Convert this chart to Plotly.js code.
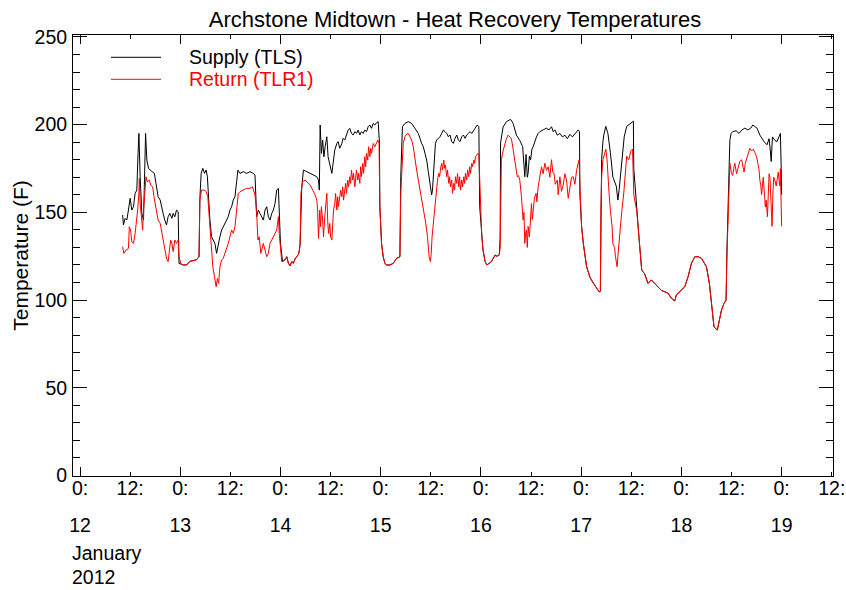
<!DOCTYPE html>
<html>
<head>
<meta charset="utf-8">
<script src="https://cdn.plot.ly/plotly-3.0.1.min.js"></script>
<style>html,body{margin:0;padding:0;background:#fff;}#chart{width:846px;height:590px;}</style>
</head>
<body>
<div id="chart"></div>
<script>
// Hours since 2012-01-12 00:00
const supplyHours = [10.2,10.4,10.8,11.2,11.6,12.0,12.4,12.8,13.2,13.6,13.9,14.1,14.4,14.8,15.2,15.4,15.7,16.0,16.4,16.8,17.4,17.8,18.2,18.7,19.2,19.6,19.9,20.3,20.7,21.1,21.5,22.0,22.3,22.7,23.1,23.5,23.7,24.2,24.7,25.5,26.3,27.1,27.9,28.5,
28.7,29.0,29.4,29.8,30.2,30.5,30.7,31.1,31.5,31.9,32.3,32.7,33.1,33.5,33.9,34.3,34.7,35.1,35.5,35.9,36.3,36.7,37.1,37.5,37.8,38.3,39.1,39.9,40.7,41.5,41.9,42.3,42.7,43.1,43.5,43.9,44.3,44.7,45.1,45.5,45.9,46.3,46.7,47.1,47.5,47.7,48.0,48.5,49.1,49.5,49.9,50.3,50.7,51.1,51.5,51.9,52.3,52.5,
52.7,53.1,53.5,54.3,55.1,55.9,56.7,57.1,57.3,57.5,57.8,58.1,58.4,58.7,59.1,59.4,59.9,60.3,60.6,61.0,61.5,61.8,62.2,62.7,63.0,63.4,63.8,64.2,64.6,65.0,65.4,65.8,66.2,66.6,67.0,67.4,67.8,68.2,68.6,69.0,69.4,69.8,70.2,70.6,71.0,71.4,71.7,71.8,72.2,72.6,73.0,73.4,74.2,75.0,75.8,76.6,
76.8,77.2,77.8,78.6,79.4,80.2,81.0,81.8,82.2,82.6,83.0,83.4,83.8,84.2,84.4,84.7,85.1,85.4,85.8,86.2,86.6,87.0,87.4,87.8,88.2,88.6,89.0,89.4,89.8,90.2,90.6,91.0,91.4,91.8,92.2,92.6,93.0,93.4,93.8,94.2,94.6,95.1,95.5,95.7,96.2,96.5,97.0,97.4,98.0,98.5,98.9,99.4,99.8,100.4,
100.6,100.7,101.3,102.1,103.1,103.7,104.5,105.3,106.0,106.3,106.5,106.8,106.9,107.1,107.3,107.6,107.9,108.2,108.5,108.9,109.3,109.7,110.1,110.9,111.7,112.3,112.9,113.3,113.7,114.3,114.9,115.5,116.1,116.7,117.3,117.9,118.5,119.0,119.3,119.6,119.7,120.1,120.5,121.3,122.1,122.9,123.7,124.3,124.6,
124.7,124.9,125.2,125.4,125.9,126.4,127.0,127.6,128.4,128.8,129.1,129.7,130.3,130.9,131.7,132.5,132.6,133.3,133.9,134.5,135.2,136.0,136.8,137.6,138.4,139.2,140.0,140.8,141.6,142.4,142.8,144.0,144.8,145.6,146.4,147.2,148.0,148.8,149.6,150.0,150.7,151.2,151.8,152.6,153.1,153.6,154.2,154.7,
154.9,155.1,155.4,155.6,155.9,156.3,157.1,157.8,158.5,159.2,159.9,160.6,161.1,161.6,162.1,162.8,163.3,163.8,164.5,165.0,165.3,165.5,165.8,166.4,166.9,167.4,167.7,167.9,168.0];
const supplyTemp = [148.5,142.8,146.6,145.6,151.3,158,151.3,153.2,160.8,162.7,183.6,195,170.3,149.4,145.6,170.3,195,179.8,175.1,174.1,173.2,172.2,166.5,158.9,157,151.3,149.4,145.6,142.8,147.5,149.4,146.6,149.4,147.5,151.3,150.4,120.9,120.5,120,120,122,122.5,123,124.7,
158,172.2,175.1,172.2,174.1,170.3,158.9,145.6,136.1,134.2,132.3,126.6,132.3,136.1,139.9,141.8,142.8,145.6,147.5,151.3,153.2,157,158.9,167.5,174.1,172.2,173.2,172.2,173.2,172.2,171.3,147.5,151.3,149.4,147.5,145.6,151.3,153.2,147.5,145.6,149.4,151.3,155.1,162.7,163.7,151.3,132.3,121.9,123,124.7,121,119.5,121.9,121,123.5,124.7,126,128,
132,164.6,174.1,173.2,172.2,171.3,170.3,168.4,162.7,199.8,183.6,191.2,181.7,187.4,193.1,181.7,176,172.2,177.9,185.5,189.3,190.3,186.5,189.3,192.2,191.2,194.1,196.9,197.9,195,194.1,196,195,196.9,194.1,196,195,196.9,196,198.8,199.8,197.9,200.7,199.8,201.1,201.7,189.3,153.2,132.3,124.7,120.9,120,120,120.9,123.8,124.7,
170.3,198.8,200.7,201.7,200.7,197.9,195,189.3,187.4,183.6,179.8,173.2,166.5,159.9,162.7,177.9,189.3,191.2,192.2,193.1,195,196.9,196,195,193.1,194.1,190.3,189.3,192.2,194.1,191.2,190.3,193.1,194.1,192.2,194.1,195,196,195,196.9,197.9,199.8,198.8,153.2,136.1,128.5,121.9,120,120.9,121.9,123.5,125.7,125,125.7,
135,189.5,198.6,201.7,203,200.7,194,191,187.4,178,170.3,183,180,170,172.4,182,180,186,187.4,191,193,195,196,197,198,197,198.8,196,197,194,195,193,194,192,194.5,193,195,196,197,196,160,142,132.5,119,113,109.6,106.8,104.7,105,
150,180,190,194,199,195,184,170,165,157,163,178,193,199,200.7,202,175,151,134,117,115,109.5,111.5,109.5,107.6,105.5,104.7,104,101,99.5,102.9,105.7,107.6,113.3,120.9,124.7,124.7,123.8,120.9,119,109.5,96.2,84.8,82.9,88.6,94.3,98.1,100,
128,150,170,191,195,196,196.5,195,197,198,197,198,199.8,199,198,194,192,190.3,188.5,192,185,179,193,191,190.3,193,195,175,160];

const returnHours = [10.2,10.5,11.0,11.6,11.8,12.1,12.4,12.8,13.2,13.6,13.8,14.1,14.2,14.4,14.7,15.0,15.2,15.5,15.8,16.1,16.6,16.9,17.4,17.7,18.0,18.4,18.7,19.2,19.6,19.9,20.3,20.7,21.1,21.4,21.7,22.0,22.3,22.7,23.1,23.5,23.7,24.2,24.7,25.5,26.3,27.1,27.9,28.5,
28.7,29.1,29.7,30.2,30.6,31.0,31.4,31.8,32.2,32.6,32.9,33.2,33.5,33.9,34.3,34.7,35.1,35.5,35.9,36.3,36.7,37.1,37.5,37.9,38.3,39.1,39.9,40.7,41.3,41.9,42.3,42.6,42.9,43.3,43.6,43.9,44.3,44.7,45.1,45.5,45.9,46.3,46.7,47.1,47.5,47.7,48.3,49.1,49.5,49.9,50.3,50.7,51.1,51.5,51.9,52.3,52.5,
52.7,52.9,53.3,53.9,54.3,54.7,55.1,55.5,55.9,56.3,56.7,56.9,57.1,57.4,57.6,57.8,58.1,58.3,58.6,58.8,59.1,59.3,59.5,59.8,60.0,60.3,60.5,60.7,61.0,61.2,61.5,61.7,61.9,62.2,62.4,62.7,62.9,63.1,63.4,63.6,63.8,64.1,64.3,64.6,64.8,65.0,65.3,65.5,65.8,66.0,66.2,66.5,66.7,67.0,67.2,67.4,67.7,67.9,68.2,68.4,68.6,68.9,69.1,69.4,69.6,69.8,70.2,70.6,71.0,71.3,71.6,71.8,72.2,72.6,73.0,73.4,74.2,75.0,75.8,76.6,
76.8,77.1,77.4,77.8,78.2,78.6,79.0,79.4,79.8,80.2,80.6,81.0,81.4,81.8,82.2,82.6,82.8,83.2,83.4,83.6,83.9,84.1,84.3,84.6,84.8,85.1,85.4,85.6,85.9,86.1,86.4,86.6,86.8,87.1,87.3,87.5,87.8,88.0,88.3,88.5,88.7,89.0,89.2,89.5,89.7,89.9,90.2,90.4,90.7,90.9,91.1,91.4,91.6,91.9,92.1,92.3,92.6,92.8,93.1,93.3,93.5,93.8,94.0,94.3,94.5,94.7,95.0,95.3,95.5,95.7,95.9,96.2,96.5,97.0,97.4,98.0,98.5,98.9,99.4,99.8,100.4,
100.6,100.7,100.9,101.3,101.7,102.1,102.5,102.9,103.3,103.7,104.1,104.4,104.7,105.0,105.3,105.7,106.1,106.3,106.5,106.7,106.9,107.1,107.3,107.6,107.9,108.1,108.3,108.5,108.8,109.2,109.4,109.7,110.1,110.5,110.9,111.3,111.7,112.1,112.5,112.9,113.2,113.5,113.8,114.3,114.5,114.9,115.3,115.7,116.1,116.5,116.9,117.3,117.7,118.1,118.5,118.9,119.2,119.5,119.7,120.1,120.5,121.3,122.1,122.9,123.7,124.3,124.6,
124.7,124.9,125.2,125.5,125.9,126.2,126.4,126.7,127.0,127.4,127.6,128.0,128.2,128.6,128.9,129.3,129.7,130.2,130.5,130.9,131.4,131.9,132.3,132.6,133.3,133.9,134.5,135.2,136.0,136.8,137.6,138.4,139.2,140.0,140.8,141.6,142.4,142.8,144.0,144.8,145.6,146.4,147.2,148.0,148.8,149.6,150.0,150.7,151.2,151.8,152.6,153.1,153.6,154.2,154.7,
154.9,155.1,155.4,155.6,156.0,156.3,156.6,156.8,157.2,157.6,158.0,158.4,158.7,159.0,159.3,159.8,160.2,160.4,160.8,161.2,161.6,162.0,162.3,162.6,162.8,163.0,163.2,163.4,163.6,163.9,164.1,164.3,164.5,164.6,164.8,165.0,165.2,165.4,165.7,165.9,166.1,166.4,166.7,167.0,167.2,167.4,167.6,167.7,167.9,168.0];
const returnTemp = [130.4,126.6,128.5,129.4,141.8,139.9,133.2,132.3,138,145.6,151.3,160.8,169.4,155.1,145.6,139.9,151.3,164.6,170.3,167.5,168.4,165.6,164.6,158.9,155.1,151.3,145.6,143.7,138,134.2,127.6,123.8,121.9,127.6,134.2,132.3,127.6,134.2,132.3,134.2,124.7,120.5,120,120,122,122.5,123,124.7,
157,162.7,162.7,161.8,158.9,145.6,132.3,119,113.3,107.6,112.3,109.5,119,122.8,123.8,126.6,128.5,132.3,136.1,139.9,138,141.8,151.3,160.8,161.8,162.7,163.7,163.7,164.6,159.9,149.4,134.2,136.1,126.6,130.4,132.3,128.5,124.7,126.6,132.3,134.2,136.1,138,139.9,147.5,138,121.9,123,124.7,121,119.5,121.9,121,123.5,124.7,126,128,
132,160.8,167.5,168.4,167.5,166.5,165.6,163.7,161.8,159.9,157,151.3,135.1,151.3,141.8,153.2,145.6,136.1,147.5,155.1,160.8,145.6,138,143.7,136.1,134.2,145.6,151.3,155.1,160.8,151.3,158.9,153.2,160.8,162.7,158.9,164.6,157,162.7,166.5,160.8,168.4,164.6,170.3,166.5,174.1,168.4,172.2,164.6,170.3,174.1,168.4,172.2,166.5,176,170.3,177.9,172.2,181.7,176,183.6,179.8,187.4,181.7,186.5,183.6,189.3,187.4,190.3,191.2,189.3,153.2,132.3,124.7,120.9,120,120,120.9,123.8,124.7,
160.8,179.8,189.3,193.1,194.6,195,193.1,191.2,187.4,179.8,174.1,168.4,162.7,158.9,153.2,147.5,143.7,136.1,130.4,124.7,121.9,126.6,136.1,143.7,151.3,158.9,162.7,168.4,172.2,170.3,176,177.9,174.1,179.8,175.1,177,170.3,174.1,166.5,170.3,164.6,168.4,160.8,166.5,162.7,170.3,166.5,172.2,164.6,170.3,162.7,168.4,164.6,170.3,166.5,172.2,168.4,174.1,170.3,176,172.2,177.9,176,179.8,177.9,181.7,182.7,183.6,182.7,170.3,153.2,136.1,128.5,121.9,120,120.9,121.9,123.5,125.7,125,125.7,
130,165,180,185,189.3,192,194,193,192,186,180,175,170.3,171,168.4,159,145.6,150,132.3,138,140,130,142,136,148,155,146,151,158,160.8,156,164.6,170,176,172,178,174,176,170,180,173,172.2,166,168.4,160,170.3,162,165.6,172,168.4,158,164.6,170,170.3,166,174,178,180,165,142,132.5,119,113,109.6,106.8,104.7,105,
150,170,180,183,186,180,170,160,151,142,132,130,125,119,128,140,150,161,172,182,180,185,186,160,151,134,117,115,109.5,111.5,109.5,107.6,105.5,104.7,104,101,99.5,102.9,105.7,107.6,113.3,120.9,124.7,124.7,123.8,120.9,119,109.5,96.2,84.8,82.9,88.6,94.3,98.1,100,
125,145,165,178,172,171,176,178,172,176,179,180,176,173,178,182,184,186.5,185,186,184,181.7,178,174,168,165.6,160,168,170,160,153,157,150,147.5,160,172,170,155,142,160,170,168,165,170,173,168,165,175,155,142];

const seriesNames = ['Supply (TLS)', 'Return (TLR1)'];
const seriesColors = ['#000000', '#ff0000'];
const tickHours = [0,12,24,36,48,60,72,84,96,108,120,132,144,156,168,180];
const tickText = ['0:','12:','0:','12:','0:','12:','0:','12:','0:','12:','0:','12:','0:','12:','0:','12:'];
const dayHours = [0,24,48,72,96,120,144,168];
const dayText = ['12','13','14','15','16','17','18','19'];
const monthText = 'January';
const yearText = '2012';

const FONT = 'Liberation Sans, Arial, Helvetica, sans-serif';
const L = 73, R = 833, T = 35, B = 476;
const px = x => (x - L) / (R - L);
const py = y => (B - y) / (B - T);
const xRange = [-1.68, 180.3];

const traces = [
  {x: supplyHours, y: supplyTemp, type: 'scatter', mode: 'lines', name: seriesNames[0],
   line: {color: seriesColors[0], width: 1}, showlegend: false, hoverinfo: 'skip'},
  {x: returnHours, y: returnTemp, type: 'scatter', mode: 'lines', name: seriesNames[1],
   line: {color: seriesColors[1], width: 1}, showlegend: false, hoverinfo: 'skip'},
  // empty carrier so that the day-tick axis (x2) is drawn
  {x: [dayHours[0]], y: [null], xaxis: 'x2', yaxis: 'y', type: 'scatter', mode: 'lines',
   showlegend: false, hoverinfo: 'skip', line: {width: 0}}
];

const layout = {
  width: 846, height: 590,
  margin: {l: L, r: 846 - R, t: T, b: 590 - B, pad: 0},
  paper_bgcolor: '#ffffff', plot_bgcolor: '#ffffff',
  font: {family: FONT, size: 19.5, color: '#000'},
  showlegend: false,
  title: {text: 'Archstone Midtown - Heat Recovery Temperatures', font: {family: FONT, size: 22, color: '#000'},
          x: 455 / 846, xanchor: 'center', xref: 'container', y: 1 - 19 / 590, yanchor: 'middle', yref: 'container'},
  xaxis: {
    range: xRange, tickmode: 'array', tickvals: tickHours, ticktext: tickText,
    ticks: 'inside', ticklen: 4, tickwidth: 1, tickcolor: '#000',
    showline: true, linecolor: '#000', linewidth: 1, mirror: 'ticks',
    showgrid: false, zeroline: false, tickangle: 0, ticklabelstandoff: -5,
    tickfont: {family: FONT, size: 19.5, color: '#000'}
  },
  xaxis2: {
    overlaying: 'x', anchor: 'y', side: 'bottom', range: xRange,
    tickmode: 'array', tickvals: dayHours, ticktext: dayText,
    ticks: 'inside', ticklen: 9, tickwidth: 1, tickcolor: '#000',
    showline: false, mirror: 'ticks', showgrid: false, zeroline: false, tickangle: 0,
    ticklabelstandoff: 35,
    tickfont: {family: FONT, size: 19.5, color: '#000'}
  },
  yaxis: {
    range: [-0.3, 251.1], tickmode: 'linear', tick0: 0, dtick: 50,
    ticks: 'inside', ticklen: 14, tickwidth: 1, tickcolor: '#000',
    minor: {dtick: 10, tick0: 0, ticks: 'inside', ticklen: 7, tickcolor: '#000', tickwidth: 1, showgrid: false},
    showline: true, linecolor: '#000', linewidth: 1, mirror: 'ticks',
    showgrid: false, zeroline: false, ticklabelstandoff: 1,
    tickfont: {family: FONT, size: 19.5, color: '#000'},
    title: {text: 'Temperature (F)', font: {family: FONT, size: 21, color: '#000'}, standoff: 0}
  },
  shapes: [
    {type: 'line', xref: 'paper', yref: 'paper', x0: px(111), x1: px(161), y0: py(57.3), y1: py(57.3),
     line: {color: seriesColors[0], width: 1}},
    {type: 'line', xref: 'paper', yref: 'paper', x0: px(111), x1: px(161), y0: py(79.3), y1: py(79.3),
     line: {color: seriesColors[1], width: 1}}
  ],
  annotations: [
    {text: seriesNames[0], xref: 'paper', yref: 'paper', x: px(187), y: py(57), xanchor: 'left', yanchor: 'middle',
     showarrow: false, font: {family: FONT, size: 19.5, color: seriesColors[0]}},
    {text: seriesNames[1], xref: 'paper', yref: 'paper', x: px(187), y: py(79), xanchor: 'left', yanchor: 'middle',
     showarrow: false, font: {family: FONT, size: 19.5, color: seriesColors[1]}},
    {text: monthText, xref: 'paper', yref: 'paper', x: px(70), y: py(553), xanchor: 'left', yanchor: 'middle',
     showarrow: false, font: {family: FONT, size: 19.5, color: '#000'}},
    {text: yearText, xref: 'paper', yref: 'paper', x: px(70), y: py(590), xanchor: 'left', yanchor: 'bottom',
     showarrow: false, font: {family: FONT, size: 19.5, color: '#000'}}
  ]
};

Plotly.newPlot('chart', traces, layout, {staticPlot: true, displayModeBar: false});
</script>
</body>
</html>
